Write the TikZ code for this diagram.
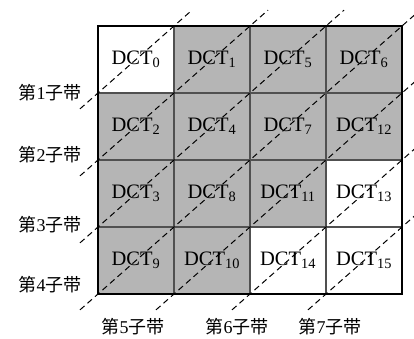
\documentclass[tikz,border=0pt]{standalone}
\usepackage{fontspec}
\setmainfont{Liberation Serif}
\newfontfamily\cjk{Noto Sans CJK SC}
\usepackage{xcolor}
\usepackage{tikz}
\usetikzlibrary{positioning, calc}
\definecolor{cellGray}{HTML}{b5b5b5}
\definecolor{gridLine}{HTML}{505050}

% subband label: 第 n 子带
\newcommand{\subband}[1]{{\cjk 第}#1{\cjk 子带}}
\newcommand{\dct}[1]{DCT\textsubscript{#1}}

\begin{document}
\begin{tikzpicture}[x=1pt, y=-1pt,
    cell/.style={
        rectangle, minimum width=76pt, minimum height=67pt,
        fill=#1, draw=gridLine, line width=1.1pt, outer sep=0pt,
        inner sep=0pt, font=\fontsize{20.5}{23}\selectfont,
    },
    bandlabel/.style={
        font=\fontsize{18}{21}\selectfont, inner sep=0pt,
    },
    subline/.style={
        dashed, dash pattern=on 6pt off 4pt, line width=1pt,
        shorten <=-24pt, shorten >=-24pt,
    },
]
\useasboundingbox (0,0) rectangle (414,339);

\def\cA{136}
\def\cB{212}
\def\cC{288}
\def\cD{364}
\def\rA{59.5}
\def\rB{126.5}
\def\rC{193.5}
\def\rD{260.5}

% ── Row 1 ─────────────────────────────────────────────
\node[cell=white]    (c00) at (\cA, \rA) {\dct{0}};
\node[cell=cellGray] (c01) at (\cB, \rA) {\dct{1}};
\node[cell=cellGray] (c02) at (\cC, \rA) {\dct{5}};
\node[cell=cellGray] (c03) at (\cD, \rA) {\dct{6}};

% ── Row 2 ─────────────────────────────────────────────
\node[cell=cellGray] (c10) at (\cA, \rB) {\dct{2}};
\node[cell=cellGray] (c11) at (\cB, \rB) {\dct{4}};
\node[cell=cellGray] (c12) at (\cC, \rB) {\dct{7}};
\node[cell=cellGray] (c13) at (\cD, \rB) {\dct{12}};

% ── Row 3 ─────────────────────────────────────────────
\node[cell=cellGray] (c20) at (\cA, \rC) {\dct{3}};
\node[cell=cellGray] (c21) at (\cB, \rC) {\dct{8}};
\node[cell=cellGray] (c22) at (\cC, \rC) {\dct{11}};
\node[cell=white]    (c23) at (\cD, \rC) {\dct{13}};

% ── Row 4 ─────────────────────────────────────────────
\node[cell=cellGray] (c30) at (\cA, \rD) {\dct{9}};
\node[cell=cellGray] (c31) at (\cB, \rD) {\dct{10}};
\node[cell=white]    (c32) at (\cC, \rD) {\dct{14}};
\node[cell=white]    (c33) at (\cD, \rD) {\dct{15}};

% outer border
\draw[black, line width=1.4pt] (c00.north west) rectangle (c33.south east);

% ── Subband diagonals ────────────────────────────────
\foreach \a/\b in {00/00, 10/01, 20/02, 30/03, 31/13, 32/23, 33/33}
    \draw[subline] (c\a.south west) -- (c\b.north east);

% ── Subband labels ───────────────────────────────────
\node[bandlabel] (b1) at (50, 93)  {\subband{1}};
\node[bandlabel] (b2) at (50, 155) {\subband{2}};
\node[bandlabel] (b3) at (50, 225) {\subband{3}};
\node[bandlabel] (b4) at (50, 285) {\subband{4}};
\node[bandlabel] (b5) at (133, 327) {\subband{5}};
\node[bandlabel] (b6) at (237, 327) {\subband{6}};
\node[bandlabel] (b7) at (330, 327) {\subband{7}};

\end{tikzpicture}
\end{document}
